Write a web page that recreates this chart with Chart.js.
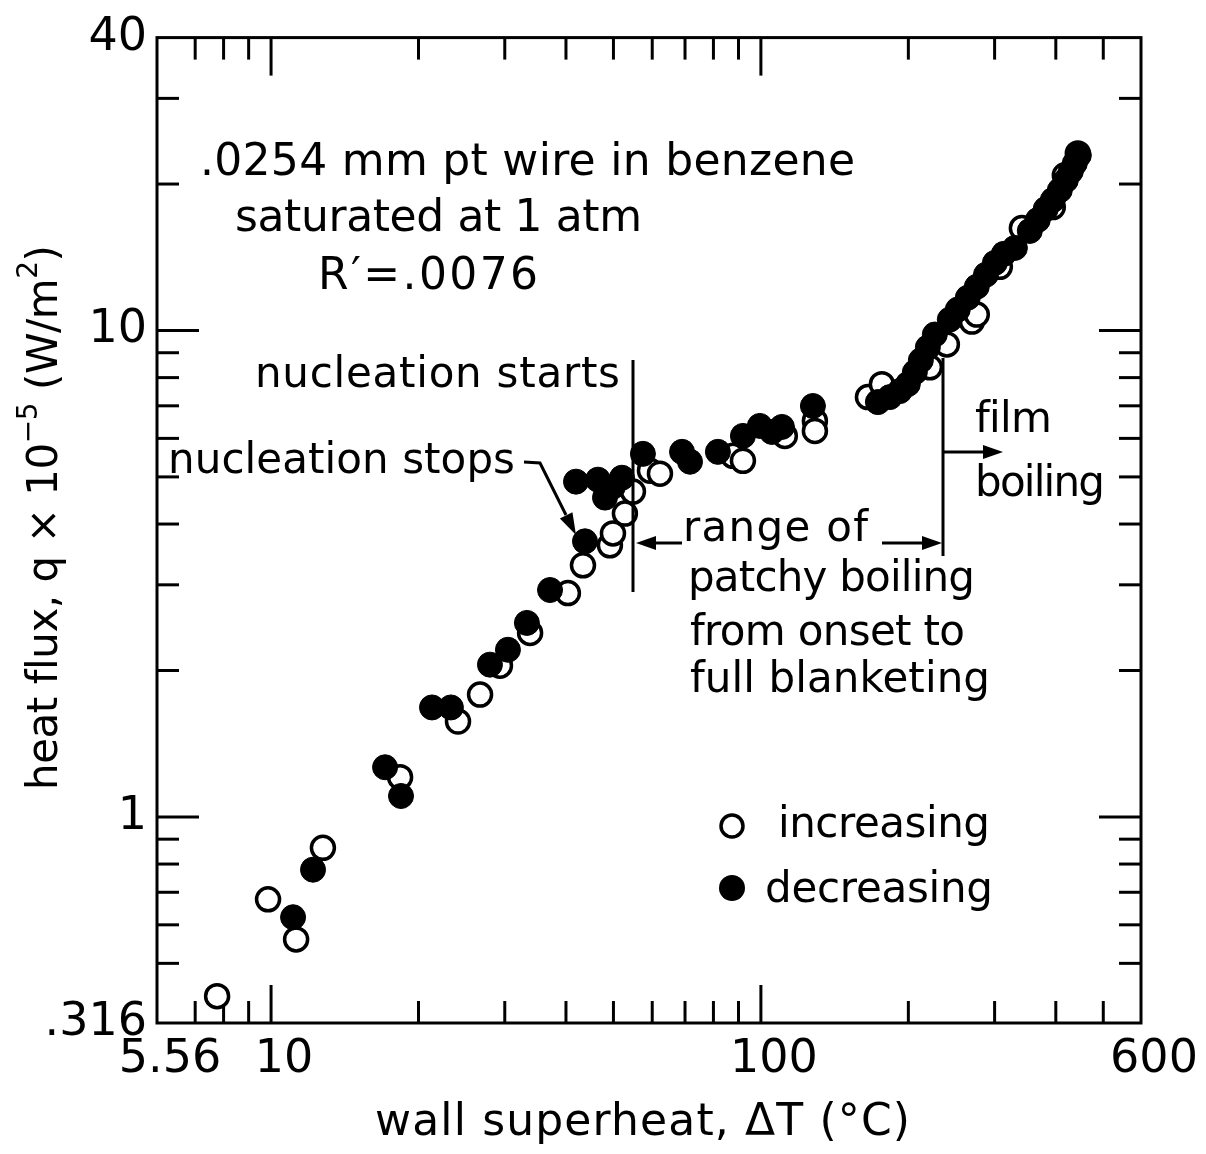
<!DOCTYPE html>
<html>
<head>
<meta charset="utf-8">
<script src="https://cdn.jsdelivr.net/npm/chart.js@4.4.1/dist/chart.umd.min.js"></script>
<style>
  html, body { margin: 0; padding: 0; background: #fff; }
  canvas { display: block; }
</style>
</head>
<body>
<canvas id="myChart" width="1206" height="1154"></canvas>
<script>
// axis ranges of the plotted frame (the corners carry the printed .316 / 5.56 labels)
const X_MIN = 5.85, X_MAX = 597;
const Y_MIN = 0.377, Y_MAX = 40;

const xTickVals = [X_MIN, 10, 100, X_MAX];
const xTickLabels = ['5.56', '10', '100', '600'];
const yTickVals = [Y_MIN, 1, 10, Y_MAX];
const yTickLabels = ['.316', '1', '10', '40'];

const xMajor = [10, 100];
const xMinor = [7, 8, 9, 20, 30, 40, 50, 60, 70, 80, 90, 200, 300, 400, 500];
const yMajor = [1, 10];
const yMinor = [0.5, 0.6, 0.7, 0.8, 0.9, 2, 3, 4, 5, 6, 7, 8, 9, 20, 30];

// increasing heat flux (open circles)
const incT = [7.76, 9.86, 11.25, 12.76, 18.34, 24.08, 26.71, 29.33, 33.79, 40.37, 43.33, 49.18, 49.89, 52.77, 54.8,
  59.37, 62.22, 87.7, 91.9, 111.9, 128.9, 128.9, 165.4, 176.6, 221.3, 239.7, 269.6, 275.9, 307.5, 341.0, 394.4, 417.3, 443.6];
const incQ = [0.428, 0.677, 0.560, 0.864, 1.207, 1.571, 1.784, 2.046, 2.389, 2.885, 3.291, 3.616, 3.826, 4.204, 4.664,
  5.149, 5.076, 5.525, 5.397, 6.071, 6.515, 6.216, 7.295, 7.757, 8.40, 9.36, 10.43, 10.78, 13.52, 16.24, 17.93, 20.84, 23.12];

// decreasing heat flux (filled circles)
const decT = [11.09, 12.18, 17.09, 18.42, 21.31, 23.29, 27.98, 30.45, 33.29, 37.11, 43.74, 41.93, 46.49, 48.05, 49.89,
  52.04, 57.43, 69.02, 71.66, 81.7, 91.9, 99.5, 105.3, 110.4, 127.7,
  173.3, 183.3, 192.1, 199.5, 206.2, 212.1, 219.2, 226.5, 243.0, 252.3, 264.5, 275.9, 288.0, 300.4, 313.3, 330.0,
  354.0, 367.5, 381.5, 394.4, 407.6, 419.3, 429.3, 437.4, 445.7];
const decQ = [0.622, 0.779, 1.265, 1.104, 1.679, 1.679, 2.056, 2.206, 2.505, 2.927, 3.686, 4.889, 4.935, 4.533, 4.774,
  4.981, 5.577, 5.630, 5.372, 5.630, 6.071, 6.365, 6.186, 6.334, 6.994,
  7.125, 7.295, 7.506, 7.757, 8.206, 8.683, 9.23, 9.81, 10.53, 11.04, 11.68, 12.30, 13.02, 13.77, 14.37, 14.78,
  16.02, 16.87, 17.77, 18.54, 19.42, 20.36, 21.24, 22.06, 22.91];

const FONT = '"DejaVu Sans", sans-serif';

function line(ctx, x1, y1, x2, y2) {
    ctx.beginPath();
    ctx.moveTo(x1, y1);
    ctx.lineTo(x2, y2);
    ctx.stroke();
}

// filled arrow head, tip at (x, y), pointing along angle ang
function head(ctx, x, y, ang, len, w) {
    const c = Math.cos(ang), s = Math.sin(ang);
    ctx.beginPath();
    ctx.moveTo(x, y);
    ctx.lineTo(x - len * c + w * s, y - len * s - w * c);
    ctx.lineTo(x - len * c - w * s, y - len * s + w * c);
    ctx.closePath();
    ctx.fill();
}

// text stretched to the width it has in the figure
function label(ctx, s, x, y, w, size) {
    ctx.font = size + 'px ' + FONT;
    ctx.letterSpacing = '0px';
    const m = ctx.measureText(s).width;
    ctx.letterSpacing = ((w - m) / (s.length - 1)) + 'px';
    ctx.fillText(s, x, y);
    ctx.letterSpacing = '0px';
}

// text made of pieces, some raised as superscripts: [text, size, rise]
function pieces(ctx, parts, x, y, w) {
    let total = 0, n = 0;
    ctx.letterSpacing = '0px';
    parts.forEach(p => {
        ctx.font = p[1] + 'px ' + FONT;
        total += ctx.measureText(p[0]).width;
        n += p[0].length;
    });
    const ls = (w - total) / (n - 1);
    ctx.letterSpacing = ls + 'px';
    let cx = x;
    parts.forEach(p => {
        ctx.font = p[1] + 'px ' + FONT;
        ctx.fillText(p[0], cx, y - p[2]);
        cx += ctx.measureText(p[0]).width;
    });
    ctx.letterSpacing = '0px';
}

const frameTicks = {
    id: 'frameTicks',
    beforeDatasetsDraw(chart) {
        const { ctx, chartArea: a, scales: { x, y } } = chart;
        ctx.save();
        ctx.strokeStyle = '#000';
        ctx.lineWidth = 3;
        ctx.lineCap = 'square';
        ctx.strokeRect(a.left, a.top, a.right - a.left, a.bottom - a.top);
        ctx.lineCap = 'butt';
        xMajor.concat(xMinor).forEach(v => {
            const p = x.getPixelForValue(v);
            const len = xMajor.includes(v) ? 38 : 22;
            line(ctx, p, a.bottom, p, a.bottom - len);
            line(ctx, p, a.top, p, a.top + len);
        });
        yMajor.concat(yMinor).forEach(v => {
            const p = y.getPixelForValue(v);
            const len = yMajor.includes(v) ? 42 : 22;
            line(ctx, a.left, p, a.left + len, p);
            line(ctx, a.right, p, a.right - len, p);
        });
        ctx.restore();
    }
};

const notes = {
    id: 'notes',
    afterDatasetsDraw(chart) {
        const ctx = chart.ctx;
        ctx.save();
        ctx.fillStyle = '#000';
        ctx.strokeStyle = '#000';
        ctx.textAlign = 'left';
        ctx.textBaseline = 'alphabetic';

        label(ctx, '.0254 mm pt wire in benzene', 200, 175, 655, 44);
        label(ctx, 'saturated at 1 atm', 235, 231, 407, 44);
        label(ctx, 'R\u2032=.0076', 318, 289, 220, 44);

        label(ctx, 'nucleation starts', 255, 387, 365, 42);
        label(ctx, 'nucleation stops', 168, 473, 347, 42);
        label(ctx, 'range of', 683, 541, 185, 42);
        label(ctx, 'patchy boiling', 688, 591, 287, 42);
        label(ctx, 'from onset to', 690, 645, 275, 42);
        label(ctx, 'full blanketing', 690, 692, 300, 42);
        label(ctx, 'film', 975, 432, 77, 42);
        label(ctx, 'boiling', 975, 496, 130, 42);

        // legend
        label(ctx, 'increasing', 778, 837, 212, 42);
        label(ctx, 'decreasing', 765, 902, 228, 42);
        ctx.lineWidth = 3.5;
        ctx.beginPath();
        ctx.arc(732, 826, 11, 0, Math.PI * 2);
        ctx.stroke();
        ctx.beginPath();
        ctx.arc(732, 888, 13, 0, Math.PI * 2);
        ctx.fill();

        // lines and arrows
        ctx.lineWidth = 3;
        line(ctx, 633, 360, 633, 592);
        line(ctx, 943, 358, 943, 556);
        line(ctx, 682, 543, 650, 543);
        head(ctx, 636, 543, Math.PI, 20, 7);
        line(ctx, 882, 543, 925, 543);
        head(ctx, 942, 543, 0, 20, 7);
        line(ctx, 943, 452, 985, 452);
        head(ctx, 1003, 452, 0, 20, 7);
        ctx.beginPath();
        ctx.moveTo(524, 462);
        ctx.lineTo(540, 463);
        ctx.lineTo(566, 515);
        ctx.stroke();
        head(ctx, 576, 535, Math.atan2(20, 10), 22, 7);

        // axis titles
        label(ctx, 'wall superheat, \u0394T (\u00b0C)', 375, 1135, 535, 44);
        ctx.translate(57, 790);
        ctx.rotate(-Math.PI / 2);
        pieces(ctx, [['heat flux, q \u00d7 10', 42, 0], ['\u22125', 28, 20], [' (W/m', 42, 0], ['2', 28, 20], [')', 42, 0]], 0, 0, 545);
        ctx.restore();
    }
};

const ctx = document.getElementById('myChart');

const chart = new Chart(ctx, {
    type: 'scatter',
    data: {
        datasets: [{
            label: 'decreasing',
            data: decT.map((t, i) => ({ x: t, y: decQ[i] })),
            pointRadius: 12.5,
            pointBackgroundColor: '#000',
            pointBorderColor: '#000',
            pointBorderWidth: 1
        },
        {
            label: 'increasing',
            data: incT.map((t, i) => ({ x: t, y: incQ[i] })),
            pointRadius: 11.5,
            pointBackgroundColor: '#fff',
            pointBorderColor: '#000',
            pointBorderWidth: 3.5
        }]
    },
    options: {
        responsive: false,
        animation: false,
        events: [],
        layout: { padding: { top: 32, right: 65, left: 0, bottom: 0 } },
        plugins: {
            legend: { display: false },
            tooltip: { enabled: false }
        },
        scales: {
            x: {
                type: 'logarithmic',
                min: X_MIN,
                max: X_MAX,
                bounds: 'data',
                grid: { display: false, drawTicks: false },
                border: { display: false },
                afterFit: s => { s.height = 131; },
                afterBuildTicks: s => { s.ticks = xTickVals.map(v => ({ value: v })); },
                ticks: {
                    autoSkip: false,
                    maxRotation: 0,
                    padding: 9,
                    labelOffset: 13,
                    color: '#000',
                    font: { family: FONT, size: 46 },
                    callback: (v, i) => xTickLabels[i]
                }
            },
            y: {
                type: 'logarithmic',
                min: Y_MIN,
                max: Y_MAX,
                bounds: 'data',
                grid: { display: false, drawTicks: false },
                border: { display: false },
                afterFit: s => { s.width = 157; },
                afterBuildTicks: s => { s.ticks = yTickVals.map(v => ({ value: v })); },
                ticks: {
                    autoSkip: false,
                    padding: 10,
                    color: '#000',
                    font: { family: FONT, size: 46 },
                    callback: (v, i) => yTickLabels[i]
                }
            }
        }
    },
    plugins: [frameTicks, notes]
});
</script>
</body>
</html>
